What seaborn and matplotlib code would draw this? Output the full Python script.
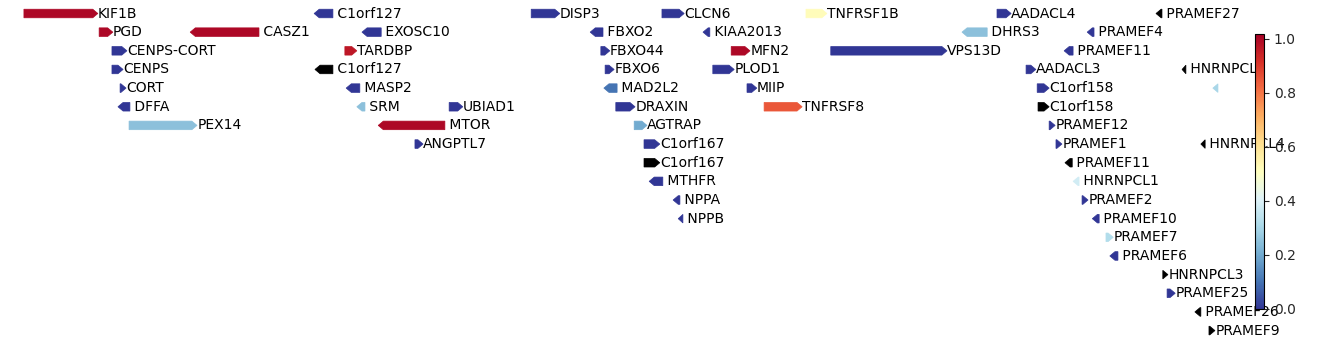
import numpy as np
import matplotlib
matplotlib.use("Agg")
import matplotlib.pyplot as plt
from matplotlib.patches import Polygon
from matplotlib.colors import Normalize
import seaborn as sns

sns.set_theme(style="white")
plt.rcParams['font.family'] = ['DejaVu Sans']

# gene data (positions in kb on chr1)
genes = ["KIF1B", "PGD", "CASZ1", "CENPS-CORT", "CENPS", "CORT", "DFFA", "PEX14",
         "C1orf127", "EXOSC10", "TARDBP", "C1orf127", "MASP2", "SRM", "MTOR", "ANGPTL7",
         "UBIAD1", "DISP3", "CLCN6", "FBXO2", "KIAA2013", "FBXO44", "MFN2", "FBXO6",
         "PLOD1", "MAD2L2", "MIIP", "DRAXIN", "TNFRSF8", "AGTRAP", "C1orf167", "C1orf167",
         "MTHFR", "NPPA", "NPPB", "TNFRSF1B", "VPS13D", "AADACL4", "DHRS3", "PRAMEF27",
         "PRAMEF4", "PRAMEF11", "AADACL3", "HNRNPCL2", "", "C1orf158", "C1orf158",
         "PRAMEF12", "PRAMEF1", "HNRNPCL4", "PRAMEF11", "HNRNPCL1", "PRAMEF2", "PRAMEF10",
         "PRAMEF7", "PRAMEF6", "HNRNPCL3", "PRAMEF25", "PRAMEF26", "PRAMEF9"]
starts = [10270, 10446, 10659, 10476, 10476, 10495, 10490, 10516,
          10949, 11061, 11021, 10951, 11024, 11049, 11099, 11185,
          11265, 11457, 11763, 11595, 11859, 11620, 11925, 11630,
          11882, 11627, 11962, 11655, 12002, 11698, 11721, 11721,
          11733, 11789, 11801, 12100, 12158, 12547, 12465, 12919,
          12758, 12704, 12615, 12980, 13052, 12641, 12643,
          12669, 12685, 13024, 12706, 12725, 12746, 12770,
          12802, 12811, 12935, 12945, 13010, 13043]
ends = [10443, 10478, 10820, 10511, 10502, 10509, 10518, 10675,
        10993, 11106, 11049, 10993, 11056, 11068, 11255, 11204,
        11297, 11524, 11815, 11625, 11875, 11641, 11969, 11651,
        11932, 11658, 11985, 11700, 12091, 11728, 11758, 11758,
        11765, 11805, 11812, 12149, 12430, 12580, 12524, 12933,
        12774, 12725, 12638, 12989, 13064, 12669, 12669,
        12683, 12699, 13034, 12723, 12739, 12760, 12786,
        12819, 12830, 12947, 12964, 13024, 13057]
strands = ["+", "+", "-", "+", "+", "+", "-", "+",
           "-", "-", "+", "-", "-", "-", "-", "+",
           "+", "+", "+", "-", "-", "+", "+", "+",
           "+", "-", "+", "+", "+", "+", "+", "+",
           "-", "-", "-", "+", "+", "+", "-", "-",
           "-", "-", "+", "-", "-", "+", "+",
           "+", "+", "-", "-", "-", "+", "-",
           "+", "-", "+", "+", "-", "+"]
rows = [0, 1, 1, 2, 3, 4, 5, 6,
        0, 1, 2, 3, 4, 5, 6, 7,
        5, 0, 0, 1, 1, 2, 2, 3,
        3, 4, 4, 5, 5, 6, 7, 8,
        9, 10, 11, 0, 2, 0, 1, 0,
        1, 2, 3, 3, 4, 4, 5,
        6, 7, 7, 8, 9, 10, 11,
        12, 13, 14, 15, 16, 17]
nan = np.nan
values = [1.0, 1.0, 1.0, 0.0, 0.0, 0.0, 0.0, 0.25,
          0.0, 0.0, 0.97, nan, 0.0, 0.25, 1.0, 0.0,
          0.0, 0.0, 0.0, 0.0, 0.0, 0.0, 1.0, 0.0,
          0.0, 0.1, 0.0, 0.0, 0.85, 0.2, 0.0, nan,
          0.0, 0.0, 0.0, 0.52, 0.0, 0.0, 0.25, nan,
          0.0, 0.0, 0.0, nan, 0.3, 0.0, nan,
          0.0, 0.0, nan, nan, 0.38, 0.0, 0.0,
          0.32, 0.0, nan, 0.0, nan, nan]
cbar_ticks = [0.0, 0.2, 0.4, 0.6, 0.8, 1.0]

cmap = sns.color_palette("RdYlBu_r", as_cmap=True)
norm = Normalize(vmin=0.0, vmax=1.018)

fig = plt.figure(figsize=(13.38, 3.44), dpi=100)
ax = fig.add_axes([0, 0, 1, 1])
ax.set_xlim(10214, 10214 + 2.34 * 1338)
ax.set_ylim(17.72, -0.724)
ax.axis("off")

h = 0.46
head = 12.0
for name, s, e, st, r, v in zip(genes, starts, ends, strands, rows, values):
    color = "black" if np.isnan(v) else cmap(norm(v))
    L = e - s
    hl = min(head, L)
    if st == "+":
        verts = [(s, r - h / 2), (e - hl, r - h / 2), (e, r), (e - hl, r + h / 2), (s, r + h / 2)]
        ax.text(e + 0.5, r, name, ha="left", va="center", fontsize=10, color="black")
    else:
        verts = [(e, r - h / 2), (s + hl, r - h / 2), (s, r), (s + hl, r + h / 2), (e, r + h / 2)]
        ax.text(e + 0.5, r, " " + name if name else "", ha="left", va="center", fontsize=10, color="black")
    ax.add_patch(Polygon(verts, closed=True, facecolor=color, edgecolor=color, linewidth=0.5))

cax = fig.add_axes([1255 / 1338, (344 - 309) / 344, 9 / 1338, 275 / 344])
sm = matplotlib.cm.ScalarMappable(norm=norm, cmap=cmap)
sm.set_array([])
cb = fig.colorbar(sm, cax=cax, ticks=cbar_ticks)
cb.ax.tick_params(labelsize=10, length=3.5, width=0.8, direction="out", right=True)
cb.outline.set_linewidth(0.8)
cb.outline.set_edgecolor("black")

fig.savefig("out.png", dpi=100)
